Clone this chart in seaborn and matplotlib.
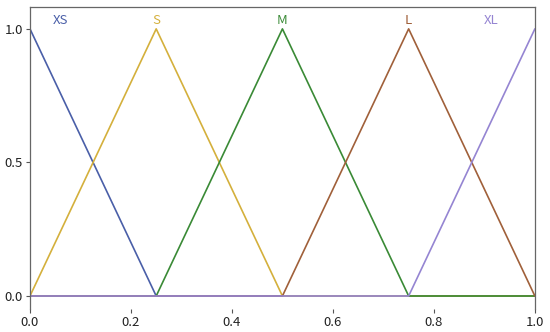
import numpy as np
import pandas as pd
import matplotlib
matplotlib.use("Agg")
import matplotlib.pyplot as plt
import seaborn as sns

sns.set_theme(style="white")
plt.rcParams['font.family'] = ['Noto Sans CJK SC', 'DejaVu Sans']

# Membership function breakpoints (x) and values (y)
x_points = [0.0, 0.25, 0.5, 0.75, 1.0]
labels = ["XS", "S", "M", "L", "XL"]
xs_vals = [1.0, 0.0, 0.0, 0.0, 0.0]
s_vals = [0.0, 1.0, 0.0, 0.0, 0.0]
m_vals = [0.0, 0.0, 1.0, 0.0, 0.0]
l_vals = [0.0, 0.0, 0.0, 1.0, 0.0]
xl_vals = [0.0, 0.0, 0.0, 0.0, 1.0]
label_x = [0.06, 0.25, 0.5, 0.75, 0.913]
colors = ["#4a5fa8", "#d4b03c", "#3a8a36", "#a0603a", "#9585d2"]

series = [xs_vals, s_vals, m_vals, l_vals, xl_vals]
df = pd.concat([pd.DataFrame({"x": x_points, "y": v, "set": lab})
                for lab, v in zip(labels, series)], ignore_index=True)

fig = plt.figure(figsize=(5.5, 3.32), dpi=100)
ax = fig.add_axes([0.0545, 0.069, 0.918, 0.91])
sns.lineplot(data=df, x="x", y="y", hue="set", palette=colors,
             hue_order=labels, legend=False, linewidth=1.2, ax=ax, sort=False)

for lab, lx, c in zip(labels, label_x, colors):
    ax.text(lx, 1.03, lab, color=c, fontsize=9.5, ha="center", va="center")

ax.set_xlim(0, 1.0)
ax.set_ylim(-0.049, 1.082)
ax.set_xticks([0.0, 0.2, 0.4, 0.6, 0.8, 1.0])
ax.set_xticklabels(["0.0", "0.2", "0.4", "0.6", "0.8", "1.0"])
ax.set_yticks([0.0, 0.5, 1.0])
ax.set_yticklabels(["0.0", "0.5", "1.0"])
ax.set_xlabel("")
ax.set_ylabel("")
ax.tick_params(axis="both", which="both", direction="out", length=3, width=0.8,
               colors="#555555", labelcolor="#222222", labelsize=9.5, pad=2,
               bottom=True, left=True)
for side in ["left", "right", "top"]:
    ax.spines[side].set_visible(True)
    ax.spines[side].set_color("#666666")
    ax.spines[side].set_linewidth(0.9)
ax.spines["bottom"].set_visible(False)

fig.savefig("out.png", dpi=100)
